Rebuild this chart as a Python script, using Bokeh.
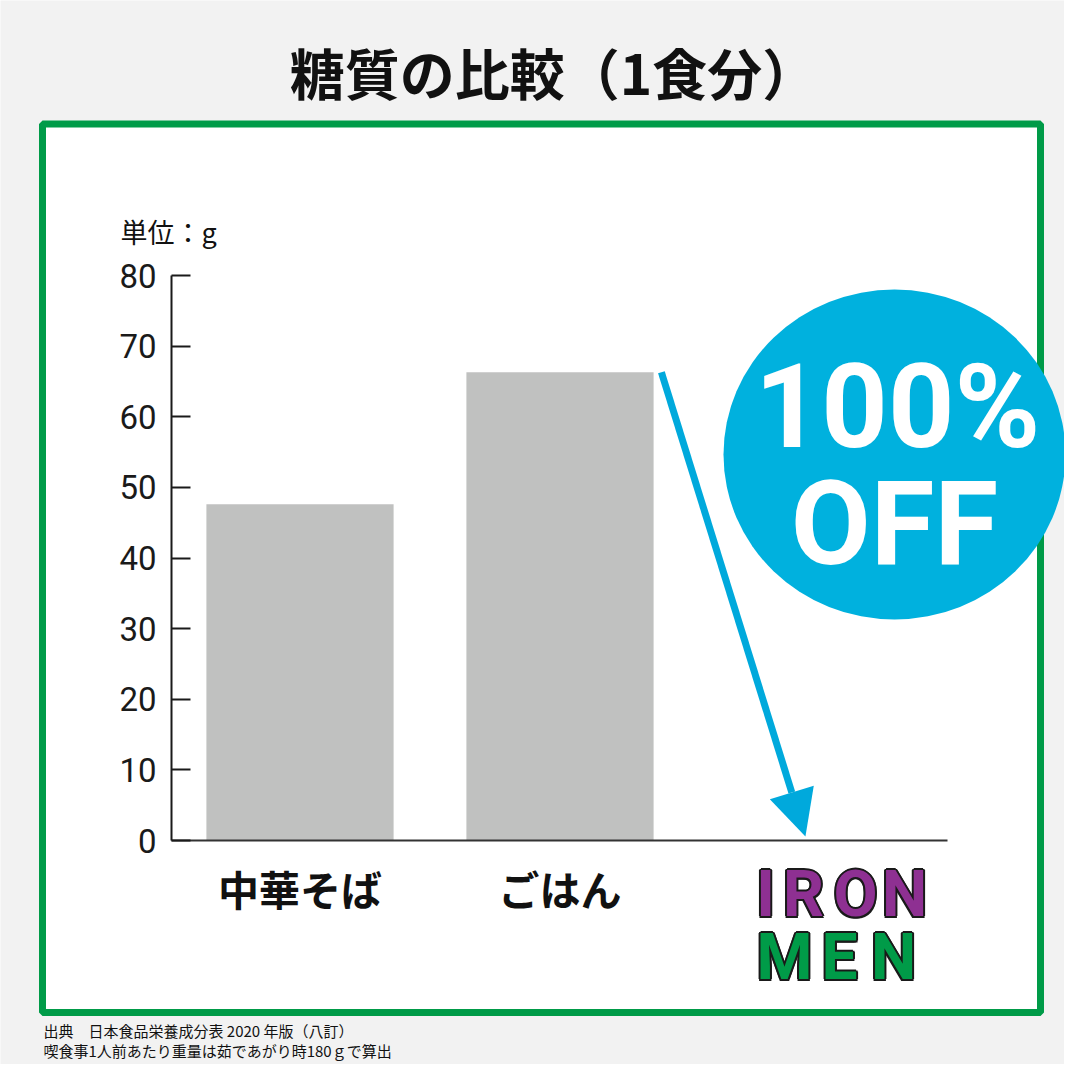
from bokeh.plotting import figure
from bokeh.models import Range1d, LinearAxis, FixedTicker, Arrow, NormalHead
from bokeh.core.properties import value
from bokeh.embed import file_html
from bokeh.resources import INLINE

# ---- data ----
categories = ["中華そば", "ごはん", "IRON MEN"]
carbs = [47.6, 66.3, 0.0]
y_ticks = [0, 10, 20, 30, 40, 50, 60, 70, 80]
title_text = "糖質の比較（1食分）"
unit_text = "単位：g"
badge_lines = ["100%", "OFF"]
logo_top = ["I", "R", "O", "N"]
logo_bottom = ["M", "E", "N"]
notes = ["出典　日本食品栄養成分表 2020 年版（八訂）",
         "喫食事1人前あたり重量は茹であがり時180ｇで算出"]

W = H = 1064
OFF = 0


def X(px):
    return (px - 299.5) / 260.0


def Y(py):
    return (840.0 - py) / 7.0625


JP = value("Noto Sans CJK JP")

p = figure(width=W, height=H, output_backend="svg", toolbar_location=None,
           x_range=Range1d(X(OFF), X(OFF + W)), y_range=Range1d(Y(OFF + H), Y(OFF)),
           min_border=0, x_axis_type=None, y_axis_type=None)
p.background_fill_color = "#f2f2f2"
p.border_fill_color = "#f2f2f2"
p.outline_line_color = None

# white panel with green border
p.quad(left=[X(42)], right=[X(1040)], top=[Y(123.5)], bottom=[Y(1012)],
       fill_color="white", line_color="#009b48", line_width=7)

# bars
p.vbar(x=list(range(len(categories))), top=carbs, width=0.72, bottom=0,
       fill_color="#c0c1c0", line_color=None)

# axes
yax = LinearAxis(fixed_location=X(171), bounds=(0, 80), ticker=FixedTicker(ticks=y_ticks))
yax.major_tick_in = 19
yax.major_tick_out = 0
yax.minor_tick_in = 0
yax.minor_tick_out = 0
yax.axis_line_width = 2
yax.axis_line_color = "#1a1a1a"
yax.major_tick_line_width = 2
yax.major_tick_line_color = "#1a1a1a"
yax.major_label_text_font = "Roboto"
yax.major_label_text_font_size = "33px"
yax.major_label_text_color = "#1a1a1a"
yax.major_label_standoff = 15
p.add_layout(yax, "left")

xax = LinearAxis(fixed_location=0, bounds=(X(171), X(947)),
                 ticker=FixedTicker(ticks=[0, 1, 2]))
xax.major_label_overrides = {0: categories[0], 1: categories[1], 2: " "}
xax.major_tick_line_color = None
xax.minor_tick_line_color = None
xax.axis_line_width = 2
xax.axis_line_color = "#333333"
xax.major_label_text_font = "Noto Sans CJK JP"
xax.major_label_text_font_style = "bold"
xax.major_label_text_font_size = "41px"
xax.major_label_text_color = "#111111"
xax.major_label_standoff = 11
p.add_layout(xax, "below")

# title
p.text(x=[X(553)], y=[Y(70)], text=[title_text], text_font=JP, text_font_style="bold",
       text_font_size="55px", text_align="center", text_baseline="middle", text_color="#111111")

# unit
p.text(x=[X(120)], y=[Y(231)], text=[unit_text], text_font=JP,
       text_font_size="27px", text_align="left", text_baseline="middle", text_color="#111111")

# footnotes
p.text(x=[X(43), X(43)], y=[Y(1030), Y(1050)], text=notes, text_font=JP,
       text_font_size="15px", text_align="left", text_baseline="middle", text_color="#111111")

# badge
p.ellipse(x=[X(894)], y=[Y(454)], width=[342 / 260.0], height=[330 / 7.0625],
          fill_color="#00b1de", line_color=None)
p.text(x=[X(897), X(894)], y=[Y(406), Y(523)], text=badge_lines, text_font=value("Roboto"),
       text_font_style="bold", text_font_size="116px", text_align="center",
       text_baseline="alphabetic", text_color="white")

# logo (outlined letters: dark copies offset around, coloured letters on top)
top_x = [765, 803, 855, 904]
bot_x = [784, 839, 893]
offsets = [(-2, 0), (2, 0), (0, -2), (0, 2), (-1.5, -1.5), (1.5, -1.5), (-1.5, 1.5), (1.5, 1.5)]
for letters, xs, base, col in [(logo_top, top_x, 894, "#8e3092"), (logo_bottom, bot_x, 957, "#009b48")]:
    for dx, dy in offsets:
        p.text(x=[X(v + dx) for v in xs], y=[Y(base + dy)] * len(xs), text=letters,
               text_font=value("Roboto"), text_font_style="bold", text_font_size="64px",
               text_align="center", text_baseline="alphabetic", text_color="#1a1a1a")
    p.text(x=[X(v) for v in xs], y=[Y(base)] * len(xs), text=letters,
           text_font=value("Roboto"), text_font_style="bold", text_font_size="64px",
           text_align="center", text_baseline="alphabetic", text_color=col)

# arrow from ごはん bar top to the IRON MEN bar
p.add_layout(Arrow(x_start=1 + 0.39, y_start=carbs[1], x_end=1.944, y_end=0.57,
                   line_color="#00a9dc", line_width=7,
                   end=NormalHead(size=46, fill_color="#00a9dc", line_color=None)))

open("out.html", "w").write(file_html(p, INLINE))
